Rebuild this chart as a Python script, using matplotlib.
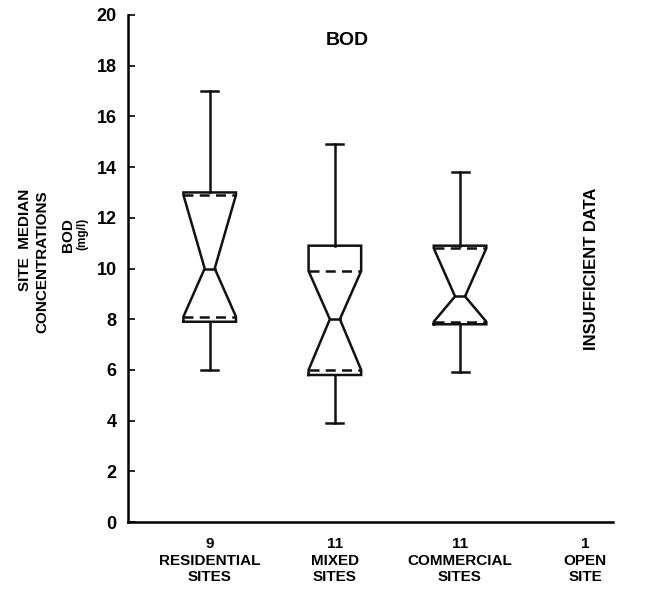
import numpy as np
import matplotlib
matplotlib.use("Agg")
import matplotlib.pyplot as plt

# ===== data =====
sites = ["RESIDENTIAL\nSITES", "MIXED\nSITES", "COMMERCIAL\nSITES", "OPEN\nSITE"]
n_sites = [9, 11, 11, 1]
whisk_lo = [6.0, 3.9, 5.9]
q1 = [7.9, 5.8, 7.8]
ci_lo = [8.1, 6.0, 7.9]
median = [10.0, 8.0, 8.9]
ci_hi = [12.9, 9.9, 10.8]
q3 = [13.0, 10.9, 10.9]
whisk_hi = [17.0, 14.9, 13.8]

plt.rcParams["font.family"] = ["Liberation Sans", "DejaVu Sans"]
plt.rcParams["font.weight"] = "bold"

fig = plt.figure(figsize=(6.45, 5.99), dpi=100)
ax = fig.add_axes([0.198, 0.1285, 0.752, 0.8465])

w = 0.21    # box half width
nw = 0.04   # notch half width
cw = 0.068  # cap half width
lw = 1.8
col = "#111111"

for i in range(3):
    c = i + 1
    xs = [c - w, c - w, c - nw, c - w, c - w, c + w, c + w, c + nw, c + w, c + w, c - w]
    ys = [q1[i], ci_lo[i], median[i], ci_hi[i], q3[i], q3[i], ci_hi[i], median[i], ci_lo[i], q1[i], q1[i]]
    ax.plot(xs, ys, color=col, lw=lw, solid_joinstyle="miter")
    # notch limits
    ax.plot([c - w, c + w], [ci_lo[i], ci_lo[i]], color=col, lw=lw, ls=(0, (4, 2.5)))
    ax.plot([c - w, c + w], [ci_hi[i], ci_hi[i]], color=col, lw=lw, ls=(0, (4, 2.5)))
    ax.plot([c - nw, c + nw], [median[i], median[i]], color=col, lw=lw)
    # whiskers
    ax.plot([c, c], [q3[i], whisk_hi[i]], color=col, lw=lw)
    ax.plot([c, c], [q1[i], whisk_lo[i]], color=col, lw=lw)
    ax.plot([c - cw, c + cw], [whisk_hi[i], whisk_hi[i]], color=col, lw=lw)
    ax.plot([c - cw, c + cw], [whisk_lo[i], whisk_lo[i]], color=col, lw=lw)

ax.text(4.05, 10.0, "INSUFFICIENT DATA", rotation=90, ha="center", va="center",
        fontsize=12, fontweight="bold")
ax.text(2.1, 19.0, "BOD", ha="center", va="center", fontsize=14, fontweight="bold")

ax.set_xlim(0.345, 4.22)
ax.set_ylim(0, 20)
ax.set_yticks(np.arange(0, 21, 2))
ax.tick_params(axis="y", direction="in", length=5, width=1.2, labelsize=13, pad=8)
ax.set_xticks([1, 2, 3, 4])
ax.set_xticklabels([f"{n}\n{s}" for n, s in zip(n_sites, sites)], fontsize=11,
                   fontweight="bold", linespacing=1.2)
ax.tick_params(axis="x", length=0, pad=11)
for t in ax.get_yticklabels():
    t.set_fontweight("bold")
ax.spines["top"].set_visible(False)
ax.spines["right"].set_visible(False)
ax.spines["left"].set_linewidth(1.8)
ax.spines["bottom"].set_linewidth(1.8)

# y axis label, four rotated lines
fig.text(0.038, 0.60, "SITE  MEDIAN", rotation=90, ha="center", va="center",
         fontsize=11, fontweight="bold")
fig.text(0.066, 0.563, "CONCENTRATIONS", rotation=90, ha="center", va="center",
         fontsize=11, fontweight="bold")
fig.text(0.105, 0.608, "BOD", rotation=90, ha="center", va="center",
         fontsize=11, fontweight="bold")
fig.text(0.128, 0.61, "(mg/l)", rotation=90, ha="center", va="center",
         fontsize=8.5, fontweight="bold")

fig.savefig("out.png", dpi=100)
